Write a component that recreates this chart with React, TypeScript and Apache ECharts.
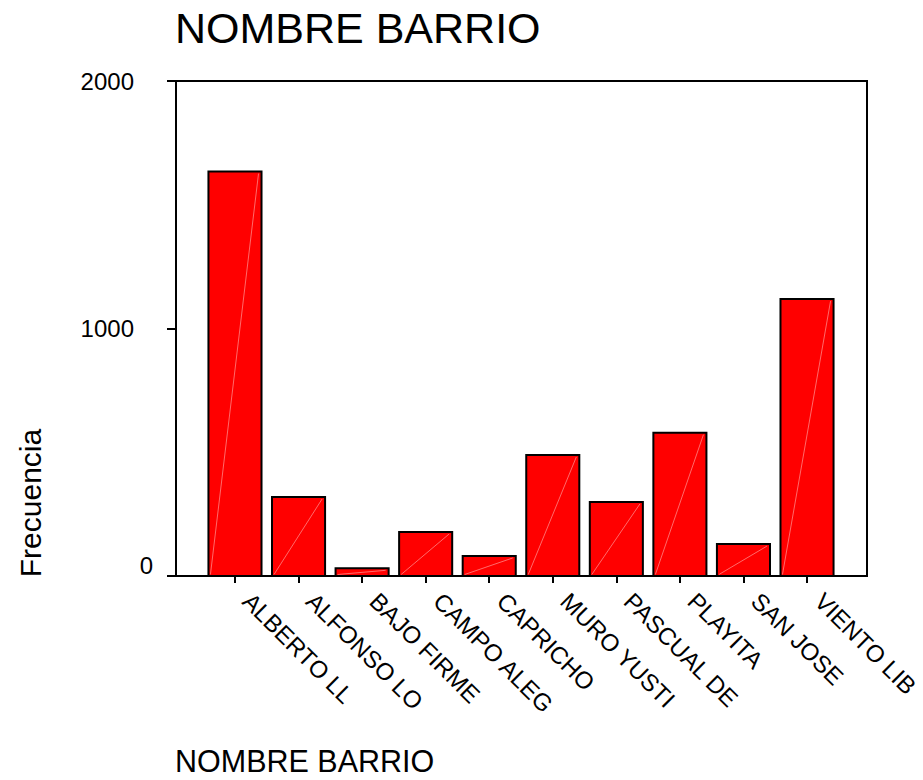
import React, { useEffect, useRef } from "react";
import * as echarts from "echarts";

const categories = [
  "ALBERTO LL",
  "ALFONSO LO",
  "BAJO FIRME",
  "CAMPO ALEG",
  "CAPRICHO",
  "MURO YUSTI",
  "PASCUAL DE",
  "PLAYITA",
  "SAN JOSE",
  "VIENTO LIB",
];
const frequencies = [1634, 319, 31, 178, 81, 489, 299, 579, 129, 1119];
const yTicks = { min: 0, max: 2000, interval: 1000 };
const titleText = "NOMBRE BARRIO";
const xName = "NOMBRE BARRIO";
const yName = "Frecuencia";

const FONT = "'Liberation Sans', Arial, Helvetica, sans-serif";

export default function App() {
  const ref = useRef<HTMLDivElement>(null);
  useEffect(() => {
    if (!ref.current) return;
    const chart = echarts.init(ref.current, null, { renderer: "svg" });
    const top = 81;
    const height = 495;
    chart.setOption({
      animation: false,
      backgroundColor: "#ffffff",
      textStyle: { fontFamily: FONT },
      grid: [
        {
          left: 176,
          top,
          width: 691,
          height,
          show: true,
          borderColor: "#000",
          borderWidth: 2,
          backgroundColor: "transparent",
        },
        { left: 203.2, top, width: 635.6, height, show: false },
      ],
      xAxis: [
        { gridIndex: 0, type: "value", show: false, min: 0, max: 1 },
        {
          gridIndex: 1,
          type: "category",
          data: categories,
          boundaryGap: true,
          axisLine: { show: false },
          axisTick: {
            show: true,
            alignWithLabel: true,
            length: 7,
            lineStyle: { color: "#000", width: 2 },
          },
          axisLabel: {
            rotate: -45,
            interval: 0,
            margin: 9,
            padding: [0, 0, 0, 17],
            color: "#000",
            fontSize: 24,
            fontFamily: FONT,
          },
          splitLine: { show: false },
        },
      ],
      yAxis: [
        {
          gridIndex: 0,
          type: "value",
          min: yTicks.min,
          max: yTicks.max,
          interval: yTicks.interval,
          axisLine: { show: true, lineStyle: { color: "#000", width: 2 } },
          axisTick: {
            show: true,
            length: 9,
            lineStyle: { color: "#000", width: 2 },
          },
          splitLine: { show: false },
          axisLabel: {
            margin: 23,
            color: "#000",
            fontSize: 24,
            fontFamily: FONT,
            formatter: (v: number) => (v === 0 ? `{z|${v}}` : `{n|${v}}`),
            rich: {
              z: { fontSize: 24, fontFamily: FONT, color: "#000", padding: [0, 0, 22, 0] },
              n: { fontSize: 24, fontFamily: FONT, color: "#000", padding: [0, 19, 0, 0] },
            },
          },
        },
        {
          gridIndex: 1,
          type: "value",
          min: yTicks.min,
          max: yTicks.max,
          show: false,
        },
      ],
      graphic: [
        {
          type: "text",
          x: 175,
          y: 28,
          style: {
            text: titleText,
            fontSize: 43,
            fontFamily: FONT,
            fill: "#000",
            textAlign: "left",
            textVerticalAlign: "middle",
          },
        },
        {
          type: "text",
          x: 175,
          y: 761,
          style: {
            text: xName,
            fontSize: 30.5,
            fontFamily: FONT,
            fill: "#000",
            textAlign: "left",
            textVerticalAlign: "middle",
          },
        },
        {
          type: "text",
          x: 30,
          y: 503,
          rotation: Math.PI / 2,
          style: {
            text: yName,
            fontSize: 30,
            fontFamily: FONT,
            fill: "#000",
            textAlign: "center",
            textVerticalAlign: "middle",
          },
        },
      ],
      series: [
        {
          type: "custom",
          xAxisIndex: 1,
          yAxisIndex: 1,
          data: frequencies.map((v, i) => [i, v]),
          encode: { x: 0, y: 1 },
          renderItem: (params: any, api: any) => {
            const xi = api.value(0);
            const yv = api.value(1);
            const base = api.coord([xi, 0]);
            const tp = api.coord([xi, yv]);
            const band = api.size([1, 0])[0];
            const w = band * 0.835;
            const x0 = base[0] - w / 2;
            return {
              type: "group",
              children: [
                {
                  type: "rect",
                  shape: { x: x0, y: tp[1], width: w, height: base[1] - tp[1] },
                  style: { fill: "#ff0000", stroke: "#000", lineWidth: 2 },
                },
                {
                  type: "line",
                  shape: {
                    x1: x0 + 2,
                    y1: base[1] - 1.5,
                    x2: x0 + w - 3,
                    y2: tp[1] + 2,
                  },
                  style: { stroke: "rgba(255,190,190,0.7)", lineWidth: 0.8 },
                },
              ],
            };
          },
        },
      ],
    });
    return () => chart.dispose();
  }, []);
  return (
    <div
      ref={ref}
      style={{ position: "fixed", left: 0, top: 0, width: 923, height: 780 }}
    />
  );
}
